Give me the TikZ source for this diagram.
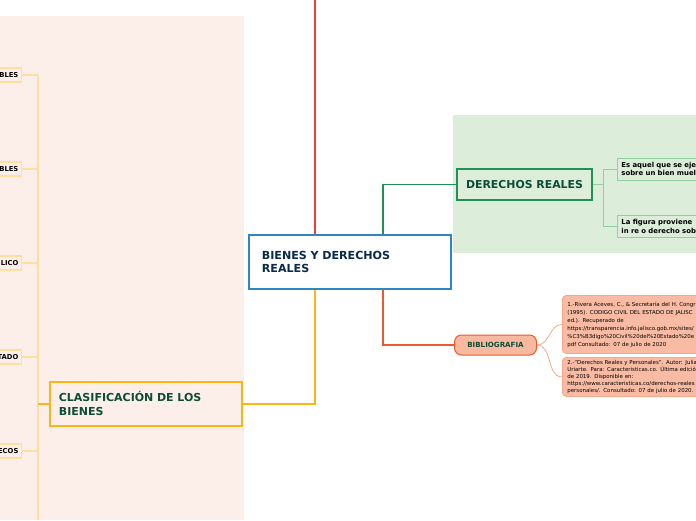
\documentclass[tikz,border=0pt]{standalone}
\usepackage{fontspec}
\setmainfont{DejaVu Sans}
\definecolor{leftbg}{HTML}{FCEFEA}
\definecolor{greenbg}{HTML}{DCEDDA}
\definecolor{redln}{HTML}{EE3B3F}
\definecolor{blueb}{HTML}{2E86C8}
\definecolor{navy}{HTML}{0B2B4C}
\definecolor{orng}{HTML}{FDB515}
\definecolor{dgreen}{HTML}{0E4D35}
\definecolor{paley}{HTML}{FFDFA0}
\definecolor{grn}{HTML}{1F9155}
\definecolor{lgrn}{HTML}{8FCFA0}
\definecolor{redor}{HTML}{EA5A2E}
\definecolor{salmon}{HTML}{F8B9A0}
\definecolor{salbox}{HTML}{F9BBA4}
\definecolor{salln}{HTML}{F6A98A}
\begin{document}
\begin{tikzpicture}[x=1pt,y=-1pt,
  central/.style={draw=blueb,line width=1.8pt,fill=white,minimum width=202pt,minimum height=54pt,
    text width=176pt,align=left,inner xsep=13pt,font=\bfseries\fontsize{11.1}{13}\selectfont,text=navy},
  clasbox/.style={draw=orng,line width=1.8pt,fill=leftbg,minimum width=192pt,minimum height=44pt,
    text width=174pt,align=left,inner xsep=9pt,font=\bfseries\fontsize{11}{14}\selectfont,text=dgreen},
  smallbox/.style={draw=paley,line width=1.2pt,fill=leftbg,minimum height=14pt,text width=52pt,
    align=right,inner xsep=3pt,inner ysep=0pt,font=\bfseries\fontsize{6.8}{8}\selectfont,text=black},
  drbox/.style={draw=grn,line width=2pt,fill=greenbg,minimum width=135pt,minimum height=31pt,
    font=\bfseries\fontsize{10.9}{12}\selectfont,text=dgreen},
  ebox/.style={draw=lgrn,line width=0.9pt,fill=greenbg,minimum height=22pt,text width=100pt,
    align=left,inner xsep=4pt,inner ysep=1pt,font=\bfseries\fontsize{6.9}{8.7}\selectfont,text=black},
  bibbox/.style={draw=redor,line width=1pt,fill=salmon,rounded corners=7pt,minimum width=82pt,
    minimum height=20pt,font=\bfseries\fontsize{7.1}{8}\selectfont,text=dgreen},
  refbox/.style={draw=salln,line width=0.8pt,fill=salbox,rounded corners=4pt,text width=150pt,
    align=left,inner xsep=5pt,inner ysep=2pt,text=black},
  conn/.style={line width=1.5pt},
  thinconn/.style={line width=1pt}
]
\useasboundingbox (0,0) rectangle (696,520);
\begin{scope}
\clip (0,0) rectangle (696,520);
\fill[leftbg] (0,16) rectangle (244,520);
\fill[greenbg] (453,115) rectangle (696,253);

\coordinate (top) at (315,0);
\coordinate (gx) at (383,0);
\coordinate (lt) at (38,75);
\coordinate (lb) at (38,520);
\coordinate (rv) at (603,0);

\node[central,anchor=north west] (c) at (248,234) {BIENES Y DERECHOS\\REALES};
\node[clasbox,anchor=north west] (clas) at (49,381) {CLASIFICACIÓN DE LOS\\BIENES};
\node[drbox,anchor=north west] (dr) at (456,168) {DERECHOS REALES};
\node[bibbox,anchor=west] (bib) at (454,345) {BIBLIOGRAFIA};

% left small boxes
\node[smallbox,anchor=east] (s1) at (22,75) {BLES};
\node[smallbox,anchor=east] (s2) at (22,169) {BLES};
\node[smallbox,anchor=east] (s3) at (22,263) {LICO};
\node[smallbox,anchor=east] (s4) at (22,357) {TADO};
\node[smallbox,anchor=east] (s5) at (22,451) {ECOS};

% right green boxes
\node[ebox,anchor=west] (e1) at (617,169) {Es aquel que se eje\\sobre un bien muel};
\node[ebox,anchor=west] (e2) at (617,226.5) {La figura proviene\\in re o derecho sob};

% references
\node[refbox,anchor=north west,minimum height=58pt,font=\fontsize{5.45}{8}\selectfont] (r1) at (562,295)
  {1.-Rivera Aceves, C., \& Secretaría del H. Congr\\(1995). CODIGO CIVIL DEL ESTADO DE JALISC\\ed.). Recuperado de\\https://transparencia.info.jalisco.gob.mx/sites/\\\%C3\%B3digo\%20Civil\%20del\%20Estado\%20e\\pdf Consultado: 07 de julio de 2020};
\node[refbox,anchor=north west,minimum height=39pt,font=\fontsize{5.45}{6.9}\selectfont] (r2) at (562,357)
  {2.-“Derechos Reales y Personales”. Autor: Julia\\Uriarte. Para: Caracteristicas.co. Última edición\\de 2019. Disponible en:\\https://www.caracteristicas.co/derechos-reales\\personales/. Consultado: 07 de julio de 2020.};

% main connectors
\draw[conn,draw=redln] (c.north -| top) -- (top);
\draw[conn,draw=orng] (c.south -| top) |- (clas.east);
\draw[conn,draw=grn] (c.north -| gx) |- (dr.west);
\draw[conn,draw=redor] (c.south -| gx) |- (bib.west);

% left tree
\draw[line width=1.2pt,draw=paley] (lt) -- (lb);
\draw[line width=1.4pt,draw=orng] (clas.west) -- (clas.west -| lt);
\foreach \s in {s1,s2,s3,s4,s5}{\draw[line width=1.2pt,draw=paley] (\s.east) -- (\s.east -| lt);}

% right tree
\draw[thinconn,draw=lgrn] (dr.east) -- (dr.east -| rv);
\draw[thinconn,draw=lgrn] (e1.west -| rv) -- (e2.west -| rv);
\draw[thinconn,draw=lgrn] (e1.west -| rv) -- (e1.west);
\draw[thinconn,draw=lgrn] (e2.west -| rv) -- (e2.west);

\draw[line width=0.8pt,draw=salln] (bib.east) to[out=0,in=180] (r1.west);
\draw[line width=0.8pt,draw=salln] (bib.east) to[out=0,in=180] (r2.west);
\end{scope}
\end{tikzpicture}
\end{document}
